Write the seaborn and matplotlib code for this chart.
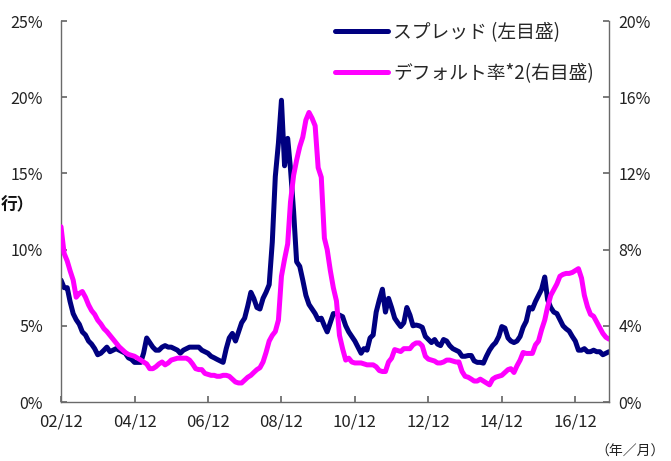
import numpy as np
import pandas as pd
import seaborn as sns
from matplotlib import pyplot as plt

sns.set_theme(style="white")
plt.rcParams['font.family'] = ['Noto Sans CJK JP', 'DejaVu Sans']

# monthly values, 2002/12 .. 2017/11
start = '2002-12-01'
spread = [
    8.0, 7.5, 7.5, 6.6, 5.8, 5.4, 5.1, 4.6, 4.4, 4.0, 3.8, 3.5,
    3.1, 3.2, 3.4, 3.6, 3.3, 3.4, 3.5, 3.4, 3.3, 3.2, 2.9, 2.8,
    2.6, 2.6, 2.6, 3.2, 4.2, 3.9, 3.6, 3.4, 3.4, 3.6, 3.7, 3.6,
    3.6, 3.5, 3.4, 3.2, 3.4, 3.5, 3.6, 3.6, 3.6, 3.6, 3.4, 3.3,
    3.2, 3.0, 2.9, 2.8, 2.7, 2.6, 3.5, 4.2, 4.5, 4.0, 4.6, 5.2,
    5.5, 6.3, 7.2, 6.8, 6.2, 6.1, 6.8, 7.2, 7.7, 10.5, 14.8, 17.0,
    19.8, 15.5, 17.3, 15.3, 12.5, 9.2, 8.9, 8.0, 7.0, 6.4, 6.1, 5.8,
    5.4, 5.5, 5.0, 4.6, 5.2, 5.8, 5.8, 5.7, 5.6, 5.0, 4.6, 4.3,
    4.0, 3.6, 3.2, 3.5, 3.4, 4.2, 4.4, 5.9, 6.7, 7.4, 5.9, 6.8,
    6.2, 5.5, 5.2, 4.95, 5.2, 6.2, 5.7, 5.0, 5.05, 5.0, 4.9, 4.3,
    4.1, 3.9, 4.1, 3.8, 3.7, 4.1, 4.0, 3.7, 3.5, 3.4, 3.3, 3.0,
    3.0, 3.05, 3.05, 2.7, 2.6, 2.6, 2.55, 3.0, 3.4, 3.7, 3.9, 4.3,
    4.95, 4.85, 4.2, 4.0, 3.9, 4.0, 4.3, 4.9, 5.3, 6.2, 6.1, 6.6,
    7.0, 7.4, 8.2, 6.7, 6.2, 5.9, 5.8, 5.4, 5.0, 4.8, 4.65, 4.3,
    4.0, 3.4, 3.4, 3.5, 3.3, 3.3, 3.4, 3.3, 3.3, 3.1, 3.2, 3.3,
]
default_x2 = [
    9.2, 7.8, 7.4, 6.9, 6.4, 5.5, 5.7, 5.8, 5.5, 5.1, 4.8, 4.6,
    4.3, 4.1, 3.85, 3.7, 3.5, 3.3, 3.1, 2.9, 2.75, 2.6, 2.5, 2.45,
    2.4, 2.3, 2.2, 2.1, 2.0, 1.75, 1.75, 1.85, 2.0, 2.1, 1.95, 2.05,
    2.2, 2.25, 2.3, 2.3, 2.3, 2.3, 2.2, 2.0, 1.75, 1.7, 1.7, 1.5,
    1.45, 1.4, 1.4, 1.35, 1.35, 1.4, 1.4, 1.35, 1.2, 1.05, 1.0, 1.0,
    1.15, 1.3, 1.4, 1.55, 1.7, 1.8, 2.1, 2.6, 3.2, 3.5, 3.7, 4.3,
    6.6, 7.5, 8.3, 10.5, 11.9, 12.7, 13.4, 13.9, 14.8, 15.2, 14.9, 14.5,
    12.3, 11.8, 8.6, 8.0, 6.9, 6.0, 5.3, 3.5, 2.8, 2.2, 2.3, 2.1,
    2.05, 2.05, 2.05, 2.0, 1.95, 1.95, 1.95, 1.85, 1.65, 1.6, 1.6, 2.1,
    2.3, 2.75, 2.7, 2.65, 2.8, 2.8, 2.8, 3.0, 3.1, 3.1, 2.95, 2.4,
    2.25, 2.2, 2.15, 2.05, 2.05, 2.1, 2.2, 2.2, 2.15, 2.1, 2.1, 1.6,
    1.35, 1.3, 1.2, 1.1, 1.1, 1.2, 1.1, 1.0, 0.9, 1.2, 1.3, 1.35,
    1.4, 1.55, 1.7, 1.75, 1.55, 1.9, 2.2, 2.6, 2.55, 2.55, 2.55, 3.0,
    3.2, 3.8, 4.3, 5.0, 5.6, 5.9, 6.2, 6.6, 6.7, 6.75, 6.75, 6.8,
    6.9, 7.0, 6.5, 5.6, 5.0, 4.6, 4.5, 4.2, 3.9, 3.6, 3.4, 3.3,
]
tick_dates = ['2002-12', '2004-12', '2006-12', '2008-12',
              '2010-12', '2012-12', '2014-12', '2016-12']
tick_labels = ['02/12', '04/12', '06/12', '08/12', '10/12', '12/12', '14/12', '16/12']
left_ticks = [0, 5, 10, 15, 20, 25]
right_ticks = [0, 4, 8, 12, 16, 20]

df = pd.DataFrame({
    'date': pd.date_range(start, periods=len(spread), freq='MS'),
    'spread': spread,
    'default': default_x2,
})

fig = plt.figure(figsize=(6.71, 4.61), dpi=100)
ax = fig.add_axes([61/671, 59/461, 548/671, 381/461])
ax2 = ax.twinx()

navy = '#000080'
magenta = '#FF00FF'
sns.lineplot(x='date', y='spread', data=df, ax=ax, color=navy, lw=3.6,
             label='スプレッド (左目盛)', legend=False)
sns.lineplot(x='date', y='default', data=df, ax=ax2, color=magenta, lw=3.6,
             label='デフォルト率*2(右目盛)', legend=False)

ax.set_xlim(df['date'].iloc[0], df['date'].iloc[-1])
ax.set_ylim(0, 25)
ax2.set_ylim(0, 20)
ax.set_xlabel('')
ax.set_ylabel('')
ax2.set_ylabel('')

ax.set_yticks(left_ticks)
ax.set_yticklabels([f'{v}%' for v in left_ticks])
ax2.set_yticks(right_ticks)
ax2.set_yticklabels([f'{v}%' for v in right_ticks])
ax.set_xticks(pd.to_datetime(tick_dates))
ax.set_xticklabels(tick_labels)

spine_col = '#6a6a6a'
for a in (ax, ax2):
    a.spines['top'].set_visible(False)
    for s in ('left', 'right', 'bottom'):
        a.spines[s].set_color(spine_col)
        a.spines[s].set_linewidth(1.0)
ax.spines['right'].set_visible(False)
ax2.spines['left'].set_visible(False)
ax2.spines['bottom'].set_visible(False)

ax.tick_params(axis='y', direction='in', length=4, color=spine_col, pad=13,
               labelsize=11.5, labelcolor='#222222', left=True)
ax.tick_params(axis='x', direction='in', length=4, color=spine_col, pad=8,
               labelsize=12, labelcolor='#222222', bottom=True)
ax2.tick_params(axis='y', direction='in', length=4, color=spine_col, pad=7,
                labelsize=11.5, labelcolor='#222222', right=True)

h1, l1 = ax.get_legend_handles_labels()
h2, l2 = ax2.get_legend_handles_labels()
fig.legend(h1 + h2, l1 + l2, loc='upper left', bbox_to_anchor=(335/671, 1 - 22/461),
           frameon=False, fontsize=13.5, handlelength=2.8, handletextpad=0.3,
           labelspacing=1.05, borderpad=0, borderaxespad=0)

fig.text(630/671, 1 - 452/461, '（年／月）', ha='center', va='center', fontsize=10, color='#222222')
fig.text(1/671, 1 - 205/461, '行）', ha='left', va='center', fontsize=12,
         fontweight='bold', color='#111111')

plt.savefig('out.png', dpi=100)
plt.close()
